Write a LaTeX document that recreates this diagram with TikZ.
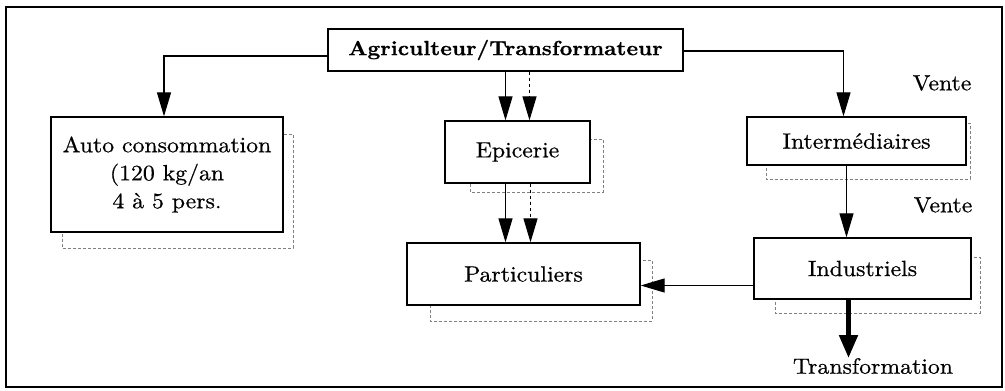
\documentclass[tikz,border=0pt]{standalone}
\usepackage{fontspec}
\setmainfont{lmroman10-regular.otf}[BoldFont=lmroman10-bold.otf, FakeStretch=1.08, FakeBold=0.6]
\usetikzlibrary{arrows.meta}
\begin{document}
\begin{tikzpicture}[x=1pt,y=-1pt,
  box/.style={draw=black, line width=1.3pt, fill=white, inner sep=0pt, align=center, font=\fontsize{22}{28}\selectfont},
  shad/.style={draw=black!50, line width=0.8pt, densely dashed},
  arr/.style={line width=1.2pt, -{Triangle[length=24pt,width=14pt]}},
  lbl/.style={font=\fontsize{22}{24}\selectfont, inner sep=0pt}]
\useasboundingbox (0,0) rectangle (1005,391);
\draw[line width=1.2pt] (6,7) rectangle (1002,387);
% shadows
\draw[shad] (62,134) rectangle (293,248);
\draw[shad] (470,139) rectangle (603,192);
\draw[shad] (766,123) rectangle (970,179);
\draw[shad] (775,257) rectangle (980,313);
\draw[shad] (430,260) rectangle (652,321);
% boxes
\node[box, minimum width=355pt, minimum height=42pt, font=\fontsize{20.5}{24}\selectfont\bfseries] (top) at (505.5,50) {Agriculteur/Transformateur};
\node[box, minimum width=232pt, minimum height=115pt] (auto) at (167,174.5) {Auto consommation\\(120 kg/an\\4 à 5 pers.};
\node[box, minimum width=145pt, minimum height=62pt] (epic) at (517.5,152) {Epicerie};
\node[box, minimum width=219pt, minimum height=48pt] (inter) at (856.5,141) {Intermédiaires};
\node[box, minimum width=217pt, minimum height=61pt] (indus) at (862.5,268.5) {Industriels};
\node[box, minimum width=233pt, minimum height=62pt] (part) at (523.5,274) {Particuliers};
% labels
\node[lbl] (v1) at (942,83) {Vente};
\node[lbl] (v2) at (943,205) {Vente};
\node[lbl, anchor=north] (trans) at (873,358) {Transformation};
% connectors
\draw[arr] ([yshift=-6pt]top.west) -| ([xshift=-3pt]auto.north);
\draw[arr] ([yshift=-1pt]top.east) -| ([xshift=-13pt]inter.north);
\draw[arr] ([xshift=-12pt]epic.north |- top.south) -- ([xshift=-12pt]epic.north);
\draw[arr, dashed] ([xshift=12pt]epic.north |- top.south) -- ([xshift=12pt]epic.north);
\draw[arr] ([xshift=-12pt]epic.south) -- ([xshift=-12pt]epic.south |- part.north);
\draw[arr, dashed] ([xshift=13pt]epic.south) -- ([xshift=13pt]epic.south |- part.north);
\draw[arr] ([xshift=-10pt]inter.south) -- ([xshift=-10pt]inter.south |- indus.north);
\draw[arr] ([yshift=-17pt]indus.west) -- ([yshift=-17pt]indus.west -| part.east);
\draw[line width=5pt, -{Triangle[length=23pt,width=18pt]}] ([xshift=-14pt]indus.south) -- ([xshift=-14pt]indus.south |- trans.north);
\end{tikzpicture}
\end{document}
